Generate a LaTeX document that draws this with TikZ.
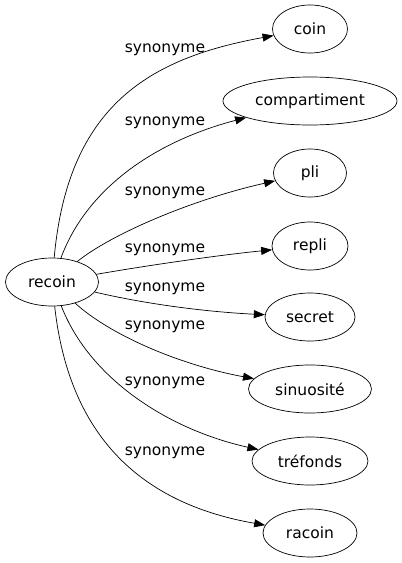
\documentclass[tikz,border=0pt]{standalone}
\usepackage{fontspec}
\setmainfont{DejaVu Sans}
\usetikzlibrary{shapes.geometric,arrows.meta}
\tikzset{
         word/.style={ellipse,draw,line width=.7pt,minimum height=48pt,inner sep=0pt,font=\fontsize{15.5}{18}\selectfont},
         rel/.style={font=\fontsize{15.5}{18}\selectfont},
         syn/.style={line width=.7pt,-{Triangle[length=11pt,width=8pt]}}
        }
\begin{document}
\begin{tikzpicture}[x=1pt,y=-1pt]
\useasboundingbox(0,0)rectangle(402,563);
%nodes
\node[word,minimum width=93pt](recoin)at(52,282){recoin};
\foreach \n/\t/\y/\w in {coin/coin/29/75,compartiment/compartiment/101/174,pli/pli/173/73,
repli/repli/246/76,secret/secret/317/90,sinuosite/sinuosité/389/123,
trefonds/tréfonds/461/116,racoin/racoin/533/94}
{
\node[word,minimum width=\w pt](\n)at(310,\y){\t};
}
%edges
\draw[syn](recoin) .. controls (68,105) and (150,58) .. (coin);
\draw[syn](recoin) .. controls (88,185) and (160,140) .. (compartiment);
\draw[syn](recoin) .. controls (110,235) and (190,200) .. (pli);
\draw[syn](recoin) .. controls (150,265) and (220,255) .. (repli);
\draw[syn](recoin) .. controls (150,305) and (210,312) .. (secret);
\draw[syn](recoin) .. controls (110,335) and (180,365) .. (sinuosite);
\draw[syn](recoin) .. controls (90,380) and (170,430) .. (trefonds);
\draw[syn](recoin) .. controls (70,445) and (150,505) .. (racoin);
%labels
\foreach \y [count=\i] in {50,123,193,250,289,327,383,453}
{
\node[rel](l\i)at(165,\y){synonyme};
}
\end{tikzpicture}
\end{document}
